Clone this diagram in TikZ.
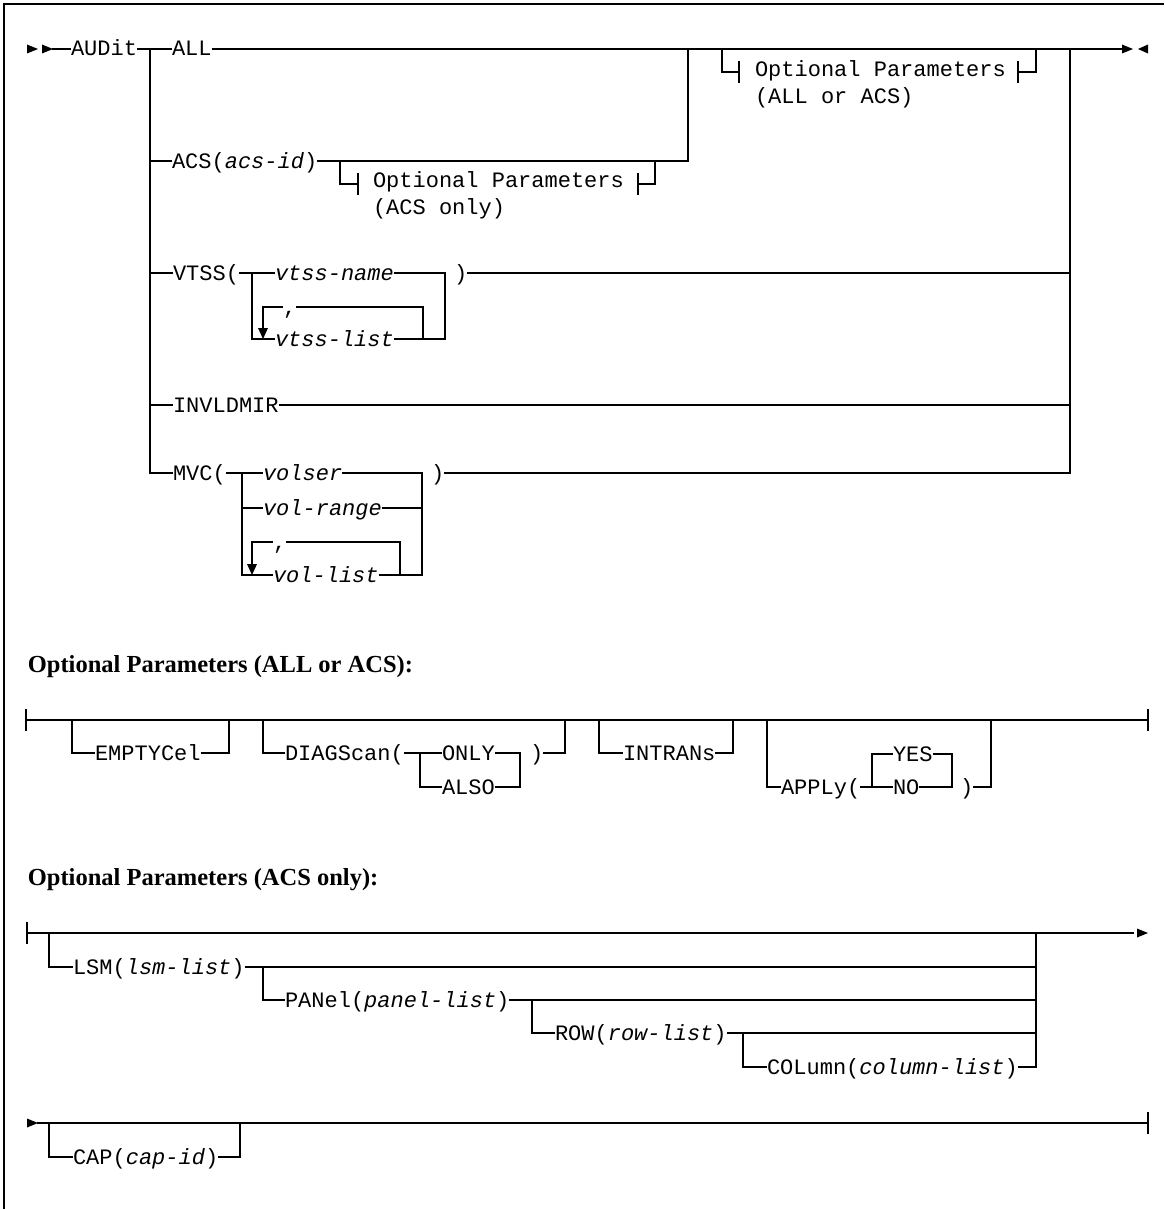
\documentclass[tikz,border=0pt]{standalone}
\usepackage{fontspec}
\newfontfamily\monof{Liberation Mono}
\newfontfamily\headf{Liberation Serif}
\newcommand\triR[2]{\fill (#1,#2-4.5) -- (#1+11,#2) -- (#1,#2+4.5) -- cycle;}
\newcommand\triL[2]{\fill (#1+10,#2-4.5) -- (#1,#2) -- (#1+10,#2+4.5) -- cycle;}
\newcommand\triD[2]{\fill (#1-5,#2-11) -- (#1,#2) -- (#1+5,#2-11) -- cycle;}
\begin{document}
\begin{tikzpicture}[x=1pt,y=-1pt,line width=1.8pt,line join=miter,
  t/.style={font=\monof\fontsize{22}{26}\selectfont,inner sep=0pt,outer sep=0pt,anchor=west,text height=14pt,text depth=0pt},
  hd/.style={font=\headf\bfseries\fontsize{24.5}{28}\selectfont,inner sep=0pt,anchor=base west}]
\useasboundingbox (0,0) rectangle (1164,1209);
\draw[line width=1.4pt] (4,1209) -- (4,4) -- (1164,4);

% ---------- main diagram ----------
\node[t] (audit) at (71,49) {AUDit};
\node[t] (all) at (172,49) {ALL};
\node[t] (acs) at (172,161) {ACS(\textit{acs-id})};
\node[t] (optA1) at (755,70) {Optional Parameters};
\node[t] (optA2) at (755,97) {(ALL or ACS)};
\node[t] (optB1) at (373,181) {Optional Parameters};
\node[t] (optB2) at (373,207) {(ACS only)};
\node[t] (vtss) at (173,273) {VTSS(};
\node[t] (vname) at (275,273) {\textit{vtss-name}};
\node[t] (vrp) at (454,273) {)};
\node[t] (vcomma) at (283,307) {,};
\node[t] (vlist) at (275,339) {\textit{vtss-list}};
\node[t] (inv) at (173,405) {INVLDMIR};
\node[t] (mvc) at (173,473) {MVC(};
\node[t] (volser) at (263,473) {\textit{volser}};
\node[t] (mrp) at (431,473) {)};
\node[t] (volrange) at (263,508) {\textit{vol-range}};
\node[t] (mcomma) at (273,542) {,};
\node[t] (vollist) at (273,575) {\textit{vol-list}};

\triR{27}{49}
\triR{42}{49}
\draw (52,49) -- (audit.west);
\draw (audit.east) -- (all.west);
\draw (all.east) -- (1123,49);
\triR{1122}{49}
\triL{1138}{49}
\draw (150,49) -- (150,473) -- (mvc.west);
\draw (150,161) -- (acs.west);
\draw (150,273) -- (vtss.west);
\draw (150,405) -- (inv.west);
\draw (acs.east) -- (688,161) -- (688,49);
% optional (ACS only) stub
\draw (340,161) -- (340,184) -- (358,184);
\draw (358,173) -- (358,195);
\draw (638,173) -- (638,195);
\draw (638,184) -- (655,184) -- (655,161);
% optional (ALL or ACS) stub
\draw (722,49) -- (722,72) -- (739,72);
\draw (739,61) -- (739,83);
\draw (1018,61) -- (1018,83);
\draw (1018,72) -- (1036,72) -- (1036,49);
\draw (1070,49) -- (1070,473) -- (mrp.east);
% VTSS
\draw (vtss.east) -- (vname.west);
\draw (252,273) -- (252,339) -- (vlist.west);
\draw (vname.east) -- (445,273) -- (445,339) -- (vlist.east);
\draw (vrp.east) -- (1070,273);
\draw (vcomma.west) -- (263,307) -- (263,330);
\triD{263}{339}
\draw (vcomma.east) -- (423,307) -- (423,339);
% INVLDMIR
\draw (inv.east) -- (1070,405);
% MVC
\draw (mvc.east) -- (volser.west);
\draw (242,473) -- (242,575) -- (vollist.west);
\draw (volser.east) -- (422,473) -- (422,575) -- (vollist.east);
\draw (242,508) -- (volrange.west);
\draw (volrange.east) -- (422,508);
\draw (mcomma.west) -- (252,542) -- (252,566);
\triD{252}{575}
\draw (mcomma.east) -- (400,542) -- (400,575);

% ---------- Optional Parameters (ALL or ACS) ----------
\node[hd] (h1) at (27,672) {Optional Parameters (ALL or ACS):};
\node[t] (empty) at (95,753) {EMPTYCel};
\node[t] (diag) at (285,753) {DIAGScan(};
\node[t] (only) at (442,753) {ONLY};
\node[t] (also) at (442,787) {ALSO};
\node[t] (drp) at (530,753) {)};
\node[t] (intr) at (623,753) {INTRANs};
\node[t] (apply) at (781,787) {APPLy(};
\node[t] (yes) at (893,754) {YES};
\node[t] (no) at (893,787) {NO};
\node[t] (arp) at (960,787) {)};

\draw (26,720) -- (1148,720);
\draw (26,709) -- (26,731);
\draw (1148,709) -- (1148,731);
\draw (72,720) -- (72,753) -- (empty.west);
\draw (empty.east) -- (229,753) -- (229,720);
\draw (263,720) -- (263,753) -- (diag.west);
\draw (diag.east) -- (only.west);
\draw (420,753) -- (420,787) -- (also.west);
\draw (only.east) -- (520,753) -- (520,787) -- (also.east);
\draw (drp.east) -- (565,753) -- (565,720);
\draw (599,720) -- (599,753) -- (intr.west);
\draw (intr.east) -- (733,753) -- (733,720);
\draw (767,720) -- (767,787) -- (apply.west);
\draw (apply.east) -- (no.west);
\draw (872,787) -- (872,754) -- (yes.west);
\draw (yes.east) -- (952,754) -- (952,787) -- (no.east);
\draw (arp.east) -- (991,787) -- (991,720);

% ---------- Optional Parameters (ACS only) ----------
\node[hd] (h2) at (27,885) {Optional Parameters (ACS only):};
\node[t] (lsm) at (73,967) {LSM(\textit{lsm-list})};
\node[t] (panel) at (285,1000) {PANel(\textit{panel-list})};
\node[t] (row) at (555,1033) {ROW(\textit{row-list})};
\node[t] (col) at (767,1067) {COLumn(\textit{column-list})};
\node[t] (cap) at (73,1157) {CAP(\textit{cap-id})};

\draw (27,922) -- (27,944);
\draw (27,933) -- (1134,933);
\triR{1137}{933}
\draw (49,933) -- (49,967) -- (lsm.west);
\draw (lsm.east) -- (1036,967);
\draw (1036,933) -- (1036,1067) -- (col.east);
\draw (263,967) -- (263,1000) -- (panel.west);
\draw (panel.east) -- (1036,1000);
\draw (532,1000) -- (532,1033) -- (row.west);
\draw (row.east) -- (1036,1033);
\draw (743,1033) -- (743,1067) -- (col.west);

\triR{27}{1123}
\draw (37,1123) -- (1148,1123);
\draw (1148,1112) -- (1148,1134);
\draw (49,1123) -- (49,1157) -- (cap.west);
\draw (cap.east) -- (240,1157) -- (240,1123);
\end{tikzpicture}
\end{document}
